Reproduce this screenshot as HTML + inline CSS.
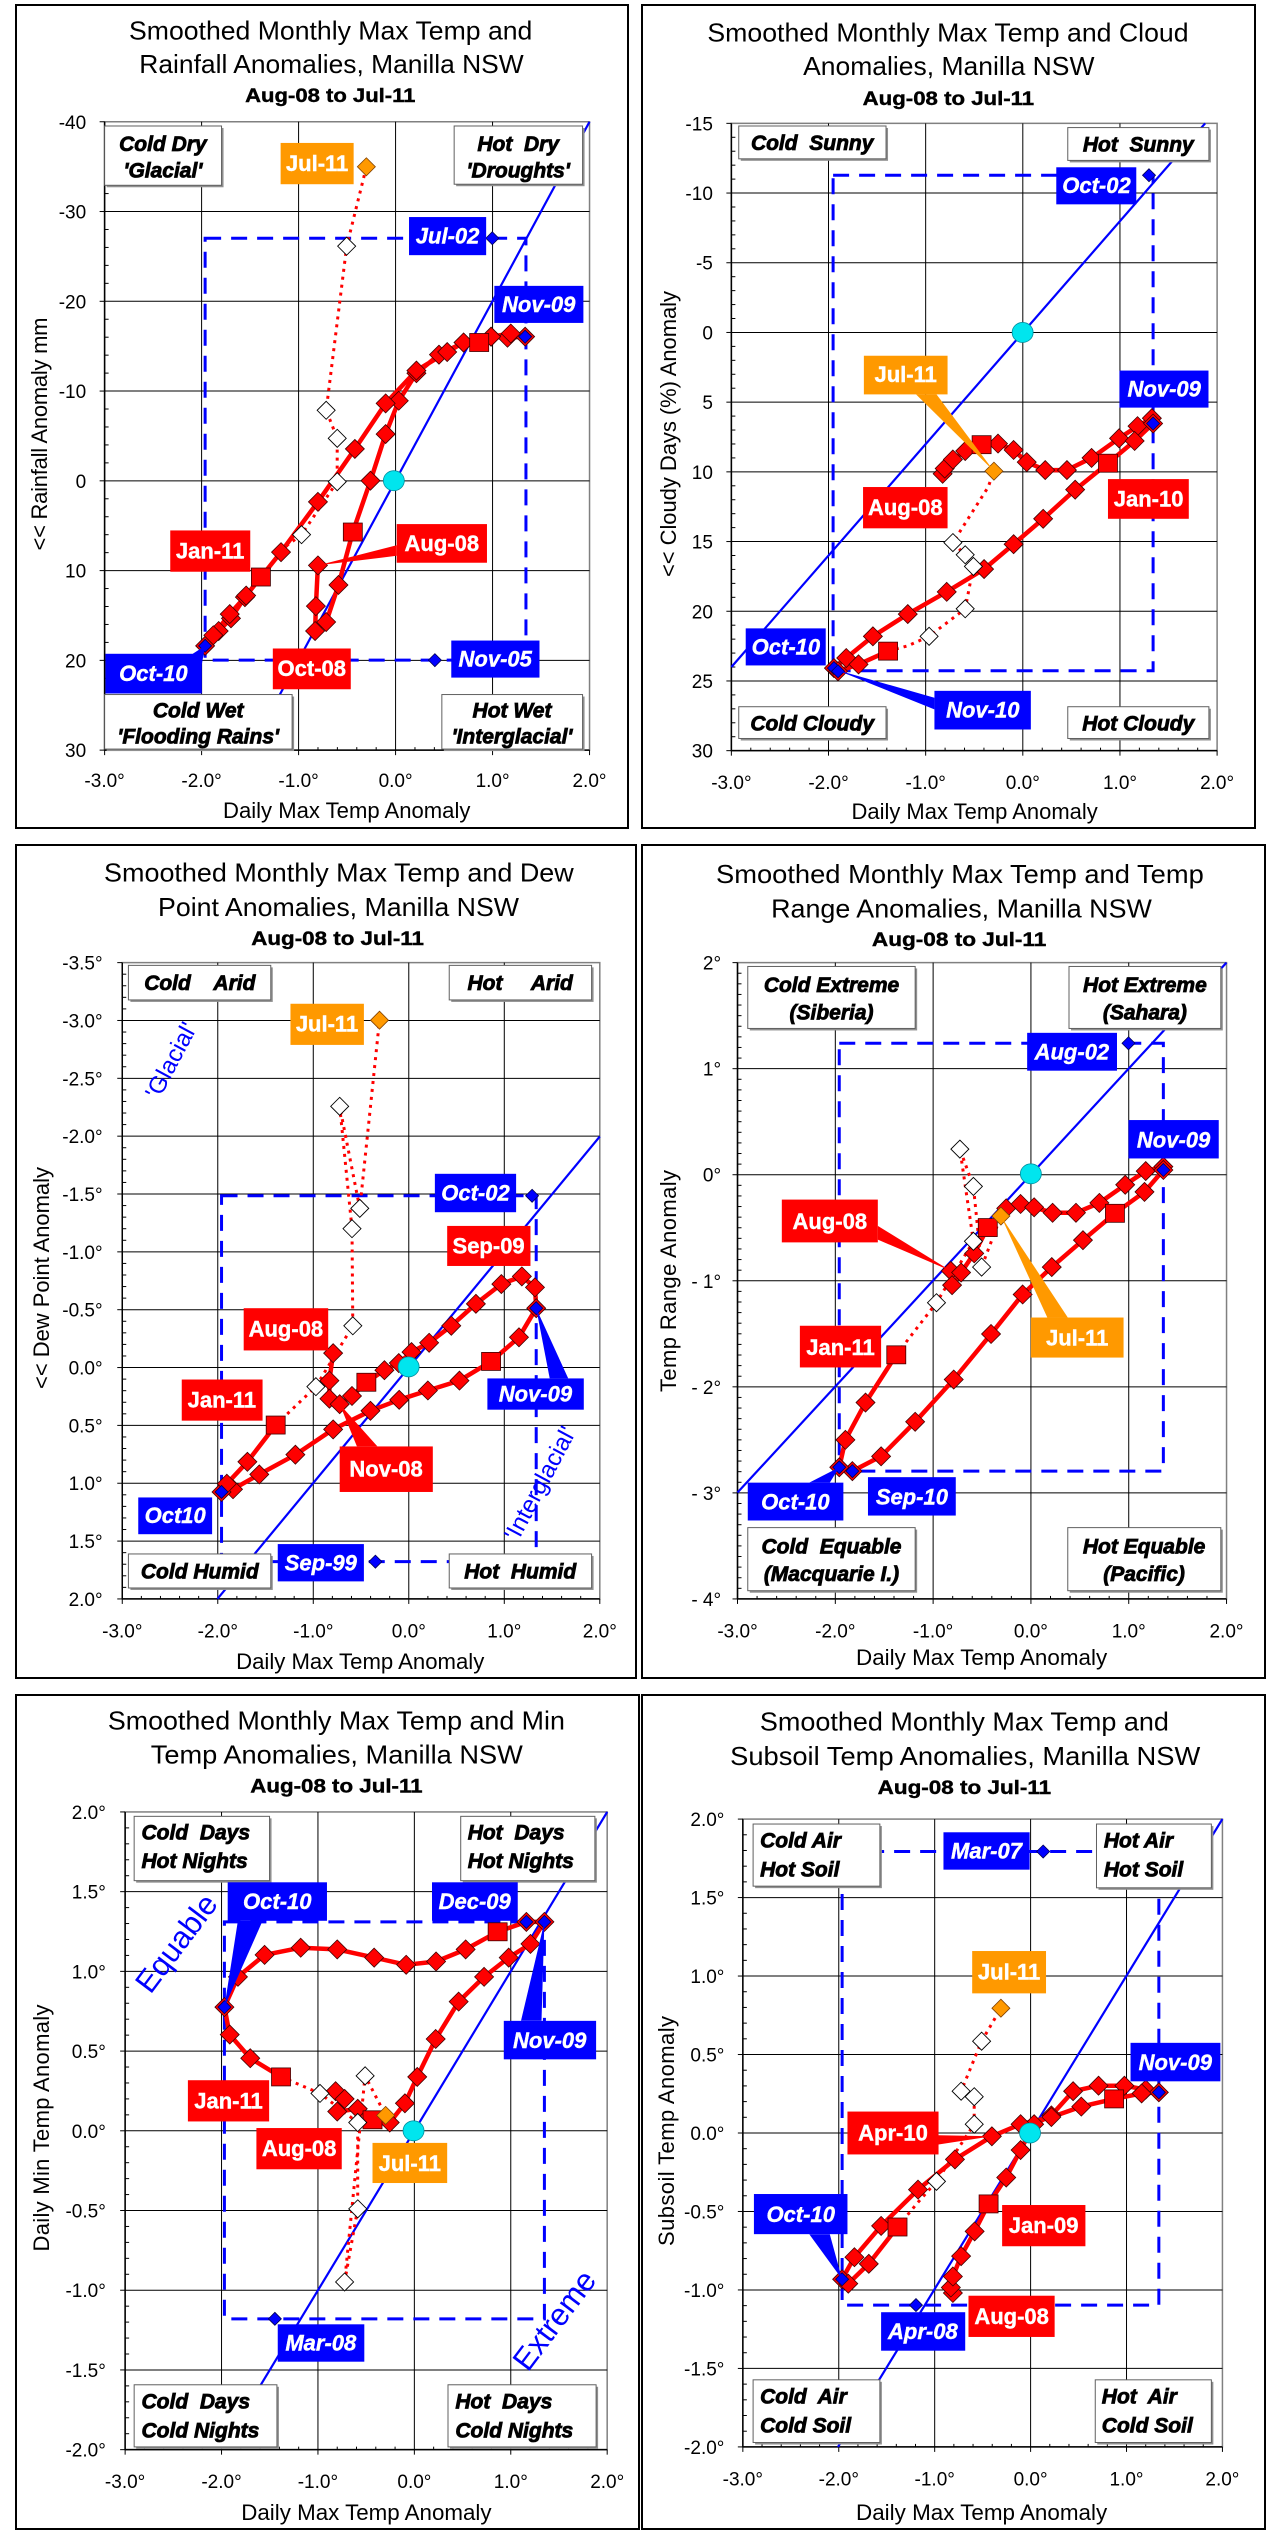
<!DOCTYPE html>
<html><head><meta charset="utf-8"><style>
html,body{margin:0;padding:0;background:#fff}
svg{display:block}
text{font-family:"Liberation Sans",Arial,sans-serif;white-space:pre}
.t1{font-size:26px;text-anchor:middle}
.t2{font-size:19px;font-weight:bold;text-anchor:middle;stroke:#000;stroke-width:0.4}
.xt{font-size:19px;text-anchor:middle}
.yt{font-size:19px;text-anchor:end}
.ax{font-size:22px;text-anchor:middle}
.q{font-size:21px;font-weight:bold;font-style:italic;text-anchor:middle;stroke:#000;stroke-width:0.8}
.qs{font-size:21px;font-weight:bold;font-style:italic;text-anchor:start;stroke:#000;stroke-width:0.8}
.lb{font-size:22px;font-weight:bold;font-style:italic;fill:#fff;text-anchor:middle;stroke:#fff;stroke-width:0.4}
.lr{font-size:22px;font-weight:bold;fill:#fff;text-anchor:middle;stroke:#fff;stroke-width:0.4}
.rt{font-size:24px;fill:#0000ff;text-anchor:middle}
</style></head><body>
<svg id="s" xmlns="http://www.w3.org/2000/svg" width="1277" height="2542" viewBox="0 0 1277 2542">
<rect x="0" y="0" width="1277" height="2542" fill="#fff"/>
<!-- PANEL 1 -->
<g id="p1">
<text class="t1" x="806" y="75" textLength="983">Smoothed Monthly Max Temp and</text>
<text class="t1" x="808" y="138" textLength="937">Rainfall Anomalies, Manilla NSW</text>
<text class="t2" x="805" y="193" textLength="415">Aug-08 to Jul-11</text>
<text class="yt">-40</text><text class="yt">-30</text><text class="yt">-20</text><text class="yt">-10</text><text class="yt">0</text><text class="yt">10</text><text class="yt">20</text><text class="yt">30</text>
<text class="xt">-3.0°</text><text class="xt">-2.0°</text><text class="xt">-1.0°</text><text class="xt">0.0°</text><text class="xt">1.0°</text><text class="xt">2.0°</text>
<text class="ax" x="845" y="1545" textLength="603">Daily Max Temp Anomaly</text>
<text class="q" x="397" y="285">Cold Dry</text><text class="q" x="397" y="335">'Glacial'</text>
<text class="q" x="1263" y="285">Hot  Dry</text><text class="q" x="1263" y="335">'Droughts'</text>
<text class="q" x="483" y="1355">Cold Wet</text><text class="q" x="483" y="1404">'Flooding Rains'</text>
<text class="q" x="1248" y="1355">Hot Wet</text><text class="q" x="1248" y="1404">'Interglacial'</text>
<text class="lb" x="1091" y="460">Jul-02</text>
<text class="lb" x="1313" y="589">Nov-09</text>
<text class="lb" x="1207" y="1259">Nov-05</text>
<text class="lb" x="374" y="1286">Oct-10</text>
<text class="lr" x="512" y="1055">Jan-11</text>
<text class="lr" x="1077" y="1041">Aug-08</text>
<text class="lr" x="760" y="1277">Oct-08</text>
<text class="lr" x="773" y="323">Jul-11</text>
</g>
<text class="ax abs" x="47" y="434" transform="rotate(-90 47 434)" textLength="233">&lt;&lt; Rainfall Anomaly mm</text>
<!-- PANEL 2 -->
<g id="p2">
<text class="t1" x="758" y="78" textLength="1173">Smoothed Monthly Max Temp and Cloud</text>
<text class="t1" x="760" y="142" textLength="710">Anomalies, Manilla NSW</text>
<text class="t2" x="759" y="198" textLength="418">Aug-08 to Jul-11</text>
<text class="yt">-15</text><text class="yt">-10</text><text class="yt">-5</text><text class="yt">0</text><text class="yt">5</text><text class="yt">10</text><text class="yt">15</text><text class="yt">20</text><text class="yt">25</text><text class="yt">30</text>
<text class="xt">-3.0°</text><text class="xt">-2.0°</text><text class="xt">-1.0°</text><text class="xt">0.0°</text><text class="xt">1.0°</text><text class="xt">2.0°</text>
<text class="ax" x="823" y="1547" textLength="600">Daily Max Temp Anomaly</text>
<text class="q" x="427" y="283">Cold  Sunny</text>
<text class="q" x="1222" y="286">Hot  Sunny</text>
<text class="q" x="427" y="1380">Cold Cloudy</text>
<text class="q" x="1222" y="1380">Hot Cloudy</text>
<text class="lb" x="1120" y="365">Oct-02</text>
<text class="lb" x="1285" y="749">Nov-09</text>
<text class="lb" x="363" y="1236">Oct-10</text>
<text class="lb" x="843" y="1355">Nov-10</text>
<text class="lr" x="654" y="973">Aug-08</text>
<text class="lr" x="1247" y="957">Jan-10</text>
<text class="lr" x="655" y="722">Jul-11</text>
</g>
<text class="ax abs" x="676" y="434" transform="rotate(-90 676 434)" textLength="286">&lt;&lt; Cloudy Days (%) Anomaly</text>
<!-- PANEL 3 -->
<g id="p3">
<text class="t1" x="826" y="112" textLength="1145">Smoothed Monthly Max Temp and Dew</text>
<text class="t1" x="825" y="175" textLength="880">Point Anomalies, Manilla NSW</text>
<text class="t2" x="823" y="228" textLength="421">Aug-08 to Jul-11</text>
<text class="yt">-3.5°</text><text class="yt">-3.0°</text><text class="yt">-2.5°</text><text class="yt">-2.0°</text><text class="yt">-1.5°</text><text class="yt">-1.0°</text><text class="yt">-0.5°</text><text class="yt">0.0°</text><text class="yt">0.5°</text><text class="yt">1.0°</text><text class="yt">1.5°</text><text class="yt">2.0°</text>
<text class="xt">-3.0°</text><text class="xt">-2.0°</text><text class="xt">-1.0°</text><text class="xt">0.0°</text><text class="xt">1.0°</text><text class="xt">2.0°</text>
<text class="ax" x="878" y="1548" textLength="605">Daily Max Temp Anomaly</text>
<text class="q" x="487" y="310">Cold    Arid</text>
<text class="q" x="1268" y="310">Hot     Arid</text>
<text class="q" x="487" y="1383">Cold Humid</text>
<text class="q" x="1268" y="1383">Hot  Humid</text>
<text class="lb" x="1159" y="694">Oct-02</text>
<text class="lb" x="782" y="1368">Sep-99</text>
<text class="lb" x="1305" y="1060">Nov-09</text>
<text class="lb" x="427" y="1282">Oct10</text>
<text class="lr" x="1191" y="790">Sep-09</text>
<text class="lr" x="697" y="942">Aug-08</text>
<text class="lr" x="541" y="1071">Jan-11</text>
<text class="lr" x="941" y="1197">Nov-08</text>
<text class="lr" x="797" y="386">Jul-11</text>
</g>
<text class="ax abs" x="49" y="1278" transform="rotate(-90 49 1278)" textLength="222">&lt;&lt; Dew Point Anomaly</text>
<text class="rt abs" x="172" y="1068" transform="rotate(-62 172 1061)">'Glacial'</text>
<text class="rt abs" x="541" y="1491" transform="rotate(-62 541 1484)">'Interglacial'</text>
<!-- PANEL 4 -->
<g id="p4">
<text class="t1" x="787" y="115" textLength="1189">Smoothed Monthly Max Temp and Temp</text>
<text class="t1" x="791" y="178" textLength="928">Range Anomalies, Manilla NSW</text>
<text class="t2" x="785" y="230" textLength="425">Aug-08 to Jul-11</text>
<text class="yt">2°</text><text class="yt">1°</text><text class="yt">0°</text><text class="yt">- 1°</text><text class="yt">- 2°</text><text class="yt">- 3°</text><text class="yt">- 4°</text>
<text class="xt">-3.0°</text><text class="xt">-2.0°</text><text class="xt">-1.0°</text><text class="xt">0.0°</text><text class="xt">1.0°</text><text class="xt">2.0°</text>
<text class="ax" x="840" y="1540" textLength="612">Daily Max Temp Anomaly</text>
<text class="q" x="474" y="314">Cold Extreme</text><text class="q" x="474" y="364">(Siberia)</text>
<text class="q" x="1238" y="314">Hot Extreme</text><text class="q" x="1238" y="364">(Sahara)</text>
<text class="q" x="474" y="1337">Cold  Equable</text><text class="q" x="474" y="1387">(Macquarie I.)</text>
<text class="q" x="1236" y="1337">Hot Equable</text><text class="q" x="1236" y="1387">(Pacific)</text>
<text class="lb" x="1060" y="437">Aug-02</text>
<text class="lb" x="1308" y="597">Nov-09</text>
<text class="lb" x="386" y="1257">Oct-10</text>
<text class="lb" x="670" y="1248">Sep-10</text>
<text class="lr" x="470" y="746">Aug-08</text>
<text class="lr" x="496" y="975">Jan-11</text>
<text class="lr" x="1073" y="958">Jul-11</text>
</g>
<text class="ax abs" x="676" y="1281" transform="rotate(-90 676 1281)" textLength="222">Temp Range Anomaly</text>
<!-- PANEL 5 -->
<g id="p5">
<text class="t1" x="820" y="90" textLength="1114">Smoothed Monthly Max Temp and Min</text>
<text class="t1" x="821" y="152" textLength="907">Temp Anomalies, Manilla NSW</text>
<text class="t2" x="820" y="205" textLength="420">Aug-08 to Jul-11</text>
<text class="yt">2.0°</text><text class="yt">1.5°</text><text class="yt">1.0°</text><text class="yt">0.5°</text><text class="yt">0.0°</text><text class="yt">-0.5°</text><text class="yt">-1.0°</text><text class="yt">-1.5°</text><text class="yt">-2.0°</text>
<text class="xt">-3.0°</text><text class="xt">-2.0°</text><text class="xt">-1.0°</text><text class="xt">0.0°</text><text class="xt">1.0°</text><text class="xt">2.0°</text>
<text class="ax" x="893" y="1528" textLength="610">Daily Max Temp Anomaly</text>
<text class="qs" x="345" y="290">Cold  Days</text><text class="qs" x="345" y="342">Hot Nights</text>
<text class="qs" x="1140" y="290">Hot  Days</text><text class="qs" x="1140" y="342">Hot Nights</text>
<text class="qs" x="345" y="1325">Cold  Days</text><text class="qs" x="345" y="1378">Cold Nights</text>
<text class="qs" x="1110" y="1325">Hot  Days</text><text class="qs" x="1110" y="1378">Cold Nights</text>
<text class="lb" x="676" y="417">Oct-10</text>
<text class="lb" x="1157" y="417">Dec-09</text>
<text class="lb" x="782" y="1220">Mar-08</text>
<text class="lb" x="1340" y="669">Nov-09</text>
<text class="lr" x="557" y="779">Jan-11</text>
<text class="lr" x="729" y="866">Aug-08</text>
<text class="lr" x="999" y="893">Jul-11</text>
</g>
<text class="ax abs" x="49" y="2128" transform="rotate(-90 49 2128)" textLength="247">Daily Min Temp Anomaly</text>
<text class="rt abs" style="font-size:31px" x="176" y="1954" transform="rotate(-53 176 1943)">Equable</text>
<text class="rt abs" style="font-size:31px" x="554" y="2331" transform="rotate(-53 554 2320)">Extreme</text>
<!-- PANEL 6 -->
<g id="p6">
<text class="t1" x="798" y="92" textLength="997">Smoothed Monthly Max Temp and</text>
<text class="t1" x="800" y="155" textLength="1146">Subsoil Temp Anomalies, Manilla NSW</text>
<text class="t2" x="798" y="207" textLength="423">Aug-08 to Jul-11</text>
<text class="yt">2.0°</text><text class="yt">1.5°</text><text class="yt">1.0°</text><text class="yt">0.5°</text><text class="yt">0.0°</text><text class="yt">-0.5°</text><text class="yt">-1.0°</text><text class="yt">-1.5°</text><text class="yt">-2.0°</text>
<text class="xt">-3.0°</text><text class="xt">-2.0°</text><text class="xt">-1.0°</text><text class="xt">0.0°</text><text class="xt">1.0°</text><text class="xt">2.0°</text>
<text class="ax" x="840" y="1528" textLength="612">Daily Max Temp Anomaly</text>
<text class="qs" x="300" y="305">Cold Air</text><text class="qs" x="300" y="357">Hot Soil</text>
<text class="qs" x="1138" y="305">Hot Air</text><text class="qs" x="1138" y="357">Hot Soil</text>
<text class="qs" x="300" y="1316">Cold  Air</text><text class="qs" x="300" y="1369">Cold Soil</text>
<text class="qs" x="1133" y="1316">Hot  Air</text><text class="qs" x="1133" y="1369">Cold Soil</text>
<text class="lb" x="852" y="325">Mar-07</text>
<text class="lb" x="697" y="1199">Apr-08</text>
<text class="lb" x="399" y="986">Oct-10</text>
<text class="lb" x="1312" y="709">Nov-09</text>
<text class="lr" x="624" y="838">Apr-10</text>
<text class="lr" x="991" y="1006">Jan-09</text>
<text class="lr" x="913" y="1171">Aug-08</text>
<text class="lr" x="907" y="545">Jul-11</text>
</g>
<text class="ax abs" x="674" y="2131" transform="rotate(-90 674 2131)" textLength="230">Subsoil Temp Anomaly</text>
</svg>
<script>
(function(){
var S=2.4375,NS='http://www.w3.org/2000/svg';
function mk(t,a,p){var e=document.createElementNS(NS,t);for(var k in a)e.setAttribute(k,a[k]);p.appendChild(e);return e;}
var P=[
{id:'p1',ox:0,oy:0,sy:1.889,b:[16,5,628,828],px:[255,1437],py:[230,1417],n:7,mn:5,ylx:210,xly:1487,
 diag:[[609,1417],[1437,230]],dash:[500,450,1282,1247],cyan:[960,908],
 ser:[[775,1068],[770,1145],[768,1192],[795,1175],[825,1105],[860,1005],[903,908],[940,820],[972,757],[1015,705],[1070,670],[1130,647],[1168,647],[1197,636],[1237,638],[1280,636],[1245,630],[1197,636],[1130,647],[1090,665],[1015,700],[940,762],[865,848],[775,948],[685,1043],[597,1128],[563,1168],[533,1192],[500,1220],[520,1200],[560,1160],[600,1125],[636,1090]],
 sq:[[860,1005],[1168,647],[636,1090]],
 dot:[[636,1090],[700,1030],[735,1010],[822,910],[822,828],[795,775],[845,465],[893,315]],
 wh:[[735,1010],[822,910],[822,828],[795,775],[845,465]],or:[893,315],
 bl:[[1280,636],[500,1220],[1200,450],[1060,1247]],
 q:[[255,238,540,350],[1107,238,1420,348],[255,1312,712,1415],[1077,1312,1420,1415]],
 lab:[['b',997,410,1185,482],['b',1205,540,1422,610],['b',1100,1210,1315,1280],['b',257,1235,492,1310,[[470,1235],[492,1255],[500,1220]]],['r',415,1002,610,1080],['r',967,990,1187,1063,[[967,1030],[967,1050],[775,1068]]],['r',665,1225,855,1302],['o',684,270,862,348]]},
{id:'p2',ox:637,oy:0,sy:1.889,b:[642,5,1255,828],px:[230,1414],py:[233,1418],n:9,mn:5,ylx:185,xly:1490,
 diag:[[230,1260],[1385,233]],dash:[478,331,1258,1267],cyan:[940,628],
 ser:[[745,895],[750,885],[770,868],[800,852],[840,840],[880,838],[918,850],[950,873],[995,888],[1048,888],[1108,865],[1175,828],[1220,805],[1255,790],[1258,800],[1213,833],[1148,875],[1068,925],[990,980],[918,1028],[846,1075],[755,1118],[660,1160],[575,1202],[510,1243],[480,1262],[490,1268],[540,1255],[612,1230]],
 sq:[[840,840],[1148,875],[612,1230]],
 dot:[[612,1230],[660,1220],[712,1202],[800,1150],[820,1070],[800,1048],[770,1025],[856,920],[870,890]],
 wh:[[712,1202],[800,1150],[820,1070],[800,1048],[770,1025]],or:[870,890],
 bl:[[1248,331],[1258,800],[480,1262],[490,1268]],
 q:[[248,238,607,300],[1050,241,1394,303],[248,1335,607,1395],[1050,1335,1394,1395]],
 lab:[['b',1022,316,1217,386],['b',1176,700,1393,770],['b',265,1187,460,1257],['b',725,1305,960,1378,[[725,1318],[725,1340],[485,1265]]],['r',551,920,757,998],['r',1148,905,1345,980],['o',553,672,757,745,[[680,745],[730,745],[870,890]]]]},
{id:'p3',ox:0,oy:820,sy:1.823,b:[16,845,636,1678],px:[298,1462],py:[260,1420],n:11,mn:5,ylx:250,xly:1490,
 diag:[[530,1420],[1462,577]],dash:[540,685,1307,1352],cyan:[996,997],
 ser:[[812,972],[803,1022],[803,1055],[828,1065],[858,1050],[893,1025],[937,1003],[972,990],[1003,970],[1046,953],[1100,922],[1160,882],[1222,846],[1272,832],[1304,852],[1307,890],[1265,943],[1197,987],[1120,1022],[1043,1040],[973,1057],[903,1077],[812,1111],[720,1157],[632,1193],[568,1220],[540,1225],[553,1210],[603,1170],[672,1103]],
 sq:[[893,1025],[1197,987],[672,1103]],
 dot:[[672,1103],[770,1033],[860,922],[858,745],[828,522],[877,708],[925,365]],
 wh:[[770,1033],[860,922],[858,745],[828,522],[877,708]],or:[925,365],
 bl:[[1297,685],[915,1352],[1307,890],[540,1225]],
 q:[[313,265,660,328],[1095,265,1442,328],[313,1338,660,1400],[1095,1338,1442,1400]],
 lab:[['b',1060,645,1258,715],['b',677,1320,887,1388],['b',1188,1018,1423,1075,[[1340,1018],[1385,1018],[1307,890]]],['b',337,1235,517,1302],['r',1090,740,1293,813],['r',594,890,800,967],['r',443,1020,640,1095],['r',828,1142,1055,1225,[[870,1142],[920,1142],[828,1065]]],['o',708,335,887,410]]},
{id:'p4',ox:637,oy:820,sy:1.823,b:[642,845,1265,1678],px:[245,1437],py:[260,1420],n:6,mn:10,ylx:205,xly:1490,
 diag:[[245,1226],[1437,260]],dash:[493,407,1283,1187],cyan:[960,645],
 ser:[[765,822],[768,848],[790,825],[822,790],[855,743],[900,708],[935,700],[968,706],[1013,716],[1070,716],[1127,698],[1190,665],[1240,640],[1283,632],[1283,638],[1237,678],[1165,717],[1087,766],[1011,815],[940,865],[863,937],[772,1020],[678,1097],[595,1160],[525,1187],[493,1180],[508,1130],[557,1062],[632,975]],
 sq:[[855,743],[1165,717],[632,975]],
 dot:[[632,975],[730,880],[820,768],[787,600],[820,668],[840,815],[887,722]],
 wh:[[730,880],[820,768],[787,600],[820,668],[840,815]],or:[887,722],
 bl:[[1198,407],[1283,638],[525,1187],[493,1180]],
 q:[[270,267,678,380],[1053,267,1423,380],[270,1290,678,1405],[1050,1290,1423,1405]],
 lab:[['b',951,388,1170,457],['b',1198,547,1418,617],['b',270,1208,503,1277,[[420,1208],[470,1208],[493,1180]]],['b',563,1198,777,1268],['r',353,692,587,770,[[587,740],[587,765],[765,822]]],['r',397,922,595,998],['o',960,907,1186,980,[[1000,907],[1050,907],[887,722]]]]},
{id:'p5',ox:0,oy:1680,sy:1.819,b:[16,1695,639,2529],px:[305,1480],py:[240,1400],n:8,mn:5,ylx:258,xly:1470,
 diag:[[635,1283],[1480,240]],dash:[547,440,1327,1162],cyan:[1008,820],
 ser:[[818,748],[840,762],[822,785],[872,780],[908,800],[950,805],[987,770],[1017,722],[1062,653],[1118,585],[1180,540],[1240,505],[1293,480],[1327,440],[1283,440],[1213,458],[1135,490],[1063,512],[990,518],[912,505],[822,490],[733,487],[645,500],[580,540],[547,595],[560,645],[610,688],[685,722]],
 sq:[[908,800],[1213,458],[685,722]],
 dot:[[685,722],[780,752],[872,805],[872,962],[840,1095],[890,720],[940,792]],
 wh:[[780,752],[872,805],[872,962],[840,1095],[890,720]],or:[940,792],
 bl:[[670,1162],[547,595],[1283,440],[1327,440]],
 q:[[327,248,657,365],[1123,248,1450,365],[327,1282,675,1395],[1092,1282,1453,1395]],
 lab:[['b',555,368,797,438,[[580,438],[640,438],[547,595]]],['b',1053,368,1262,438],['b',677,1172,888,1240],['b',1228,620,1453,690,[[1270,620],[1320,620],[1327,440]]],['r',458,728,656,803],['r',625,815,833,890],['o',908,842,1090,915]]},
{id:'p6',ox:637,oy:1680,sy:1.819,b:[642,1695,1265,2529],px:[258,1427],py:[253,1395],n:8,mn:5,ylx:213,xly:1465,
 diag:[[490,1395],[1427,253]],dash:[500,312,1272,1137],cyan:[958,824],
 ser:[[770,1115],[765,1105],[770,1085],[790,1048],[823,1003],[857,953],[900,905],[935,855],[968,808],[1010,792],[1063,748],[1125,738],[1188,738],[1240,745],[1272,750],[1230,752],[1163,762],[1083,776],[1010,795],[935,808],[865,830],[775,872],[685,927],[595,993],[530,1050],[500,1090],[515,1098],[565,1062],[635,995]],
 sq:[[857,953],[1163,762],[635,995]],
 dot:[[635,995],[685,950],[730,912],[822,808],[822,758],[790,748],[840,657],[887,597]],
 wh:[[730,912],[822,808],[822,758],[790,748],[840,657]],or:[887,597],
 bl:[[990,312],[680,1137],[500,1090],[1272,750]],
 q:[[283,262,592,375],[1120,262,1400,378],[283,1273,592,1387],[1117,1273,1400,1387]],
 lab:[['b',747,277,957,345],['b',595,1150,800,1220],['b',285,935,513,1008,[[420,1008],[470,1008],[500,1090]]],['b',1203,660,1422,730],['r',513,785,735,863,[[735,828],[735,845],[865,830]]],['r',890,955,1093,1030],['r',808,1120,1018,1195],['o',817,493,997,570]]}
];
var COL={b:'#0000ff',r:'#ff0000',o:'#ff9900'};
P.forEach(function(c){
 var g=document.getElementById(c.id);
 var L=document.createElementNS(NS,'g');g.insertBefore(L,g.firstChild);
 function X(x){return x/S+c.ox;}function Y(y){return y/c.sy+c.oy;}
 function pts(a){return a.map(function(p){return X(p[0]).toFixed(1)+','+Y(p[1]).toFixed(1);}).join(' ');}
 var b=c.b;
 mk('rect',{x:b[0],y:b[1],width:b[2]-b[0],height:b[3]-b[1],fill:'#fff',stroke:'#000','stroke-width':2},L);
 var x0=X(c.px[0]),x1=X(c.px[1]),y0=Y(c.py[0]),y1=Y(c.py[1]);
 mk('rect',{x:x0,y:y0,width:x1-x0,height:y1-y0,fill:'#fff',stroke:'#808080','stroke-width':1.5},L);
 for(var i=0;i<=5;i++){var xx=x0+(x1-x0)*i/5;
  if(i>0&&i<5)mk('line',{x1:xx,y1:y0,x2:xx,y2:y1,stroke:'#000','stroke-width':1},L);
  mk('line',{x1:xx,y1:y1,x2:xx,y2:y1+5,stroke:'#000','stroke-width':1},L);
  if(i<5)for(var k=1;k<5;k++){var xm=xx+(x1-x0)/5*k/5;mk('line',{x1:xm,y1:y1-3,x2:xm,y2:y1,stroke:'#000','stroke-width':1},L);}
 }
 for(var j=0;j<=c.n;j++){var yy=y0+(y1-y0)*j/c.n;
  if(j>0&&j<c.n)mk('line',{x1:x0,y1:yy,x2:x1,y2:yy,stroke:'#000','stroke-width':1},L);
  mk('line',{x1:x0-5,y1:yy,x2:x0,y2:yy,stroke:'#000','stroke-width':1},L);
  if(j<c.n)for(var k2=1;k2<c.mn;k2++){var ym=yy+(y1-y0)/c.n*k2/c.mn;mk('line',{x1:x0,y1:ym,x2:x0+4,y2:ym,stroke:'#000','stroke-width':1},L);}
 }
 mk('line',{x1:x0,y1:y0,x2:x0,y2:y1,stroke:'#000','stroke-width':1.5},L);
 mk('line',{x1:x0,y1:y1,x2:x1,y2:y1,stroke:'#000','stroke-width':1.5},L);
 var d=c.dash;
 mk('rect',{x:X(d[0]),y:Y(d[1]),width:X(d[2])-X(d[0]),height:Y(d[3])-Y(d[1]),fill:'none',stroke:'#0000ff','stroke-width':3,'stroke-dasharray':'16 10'},L);
 mk('polyline',{points:pts(c.diag),fill:'none',stroke:'#0000ff','stroke-width':2.2},L);
 mk('polyline',{points:pts(c.dot),fill:'none',stroke:'#ff0000','stroke-width':3,'stroke-dasharray':'3 5'},L);
 mk('polyline',{points:pts(c.ser),fill:'none',stroke:'#ff0000','stroke-width':4.5,'stroke-linejoin':'round'},L);
 function dia(p,r,f,s,sw){var x=X(p[0]),y=Y(p[1]);mk('polygon',{points:x+','+(y-r)+' '+(x+r)+','+y+' '+x+','+(y+r)+' '+(x-r)+','+y,fill:f,stroke:s,'stroke-width':sw},L);}
 var sqk={};c.sq.forEach(function(p){sqk[p[0]+'_'+p[1]]=1;});
 c.ser.forEach(function(p){if(!sqk[p[0]+'_'+p[1]])dia(p,9.5,'#ff0000','#400000',0.8);});
 c.sq.forEach(function(p){var x=X(p[0]),y=Y(p[1]);mk('rect',{x:x-9.5,y:y-9,width:19,height:18,fill:'#ff0000',stroke:'#400000','stroke-width':0.8},L);});
 c.wh.forEach(function(p){dia(p,9,'#fff','#000',0.9);});
 dia(c.or,9,'#ff9900','#804000',0.8);
 c.bl.forEach(function(p){dia(p,6.5,'#0000ff','#000050',0.8);});
 mk('ellipse',{cx:X(c.cyan[0]),cy:Y(c.cyan[1]),rx:10.5,ry:10,fill:'#00e5ee',stroke:'#0090a0','stroke-width':0.8},L);
 c.q.forEach(function(q){var x=X(q[0]),y=Y(q[1]),w=X(q[2])-x,h=Y(q[3])-y;
  mk('rect',{x:x+2,y:y+2,width:w,height:h,fill:'#909090'},L);
  mk('rect',{x:x,y:y,width:w,height:h,fill:'#fff',stroke:'#606060','stroke-width':1},L);});
 c.lab.forEach(function(l){var col=COL[l[0]];
  if(l[5])mk('polygon',{points:pts(l[5]),fill:col},L);
  mk('rect',{x:X(l[1]),y:Y(l[2]),width:X(l[3])-X(l[1]),height:Y(l[4])-Y(l[2]),fill:col},L);});
 var xi=0,yi=0;
 Array.prototype.forEach.call(g.querySelectorAll('text'),function(t){
  var cl=t.getAttribute('class');
  if(cl==='xt'){t.setAttribute('x',(x0+(x1-x0)*xi/5).toFixed(1));t.setAttribute('y',Y(c.xly).toFixed(1));xi++;return;}
  if(cl==='yt'){t.setAttribute('x',X(c.ylx).toFixed(1));t.setAttribute('y',(y0+(y1-y0)*yi/c.n+7).toFixed(1));yi++;return;}
  t.setAttribute('x',X(+t.getAttribute('x')).toFixed(1));t.setAttribute('y',Y(+t.getAttribute('y')).toFixed(1));
  var tl=t.getAttribute('textLength');if(tl){t.setAttribute('textLength',(tl/S).toFixed(1));t.setAttribute('lengthAdjust','spacingAndGlyphs');}
 });
});
})();
</script>
</body></html>
